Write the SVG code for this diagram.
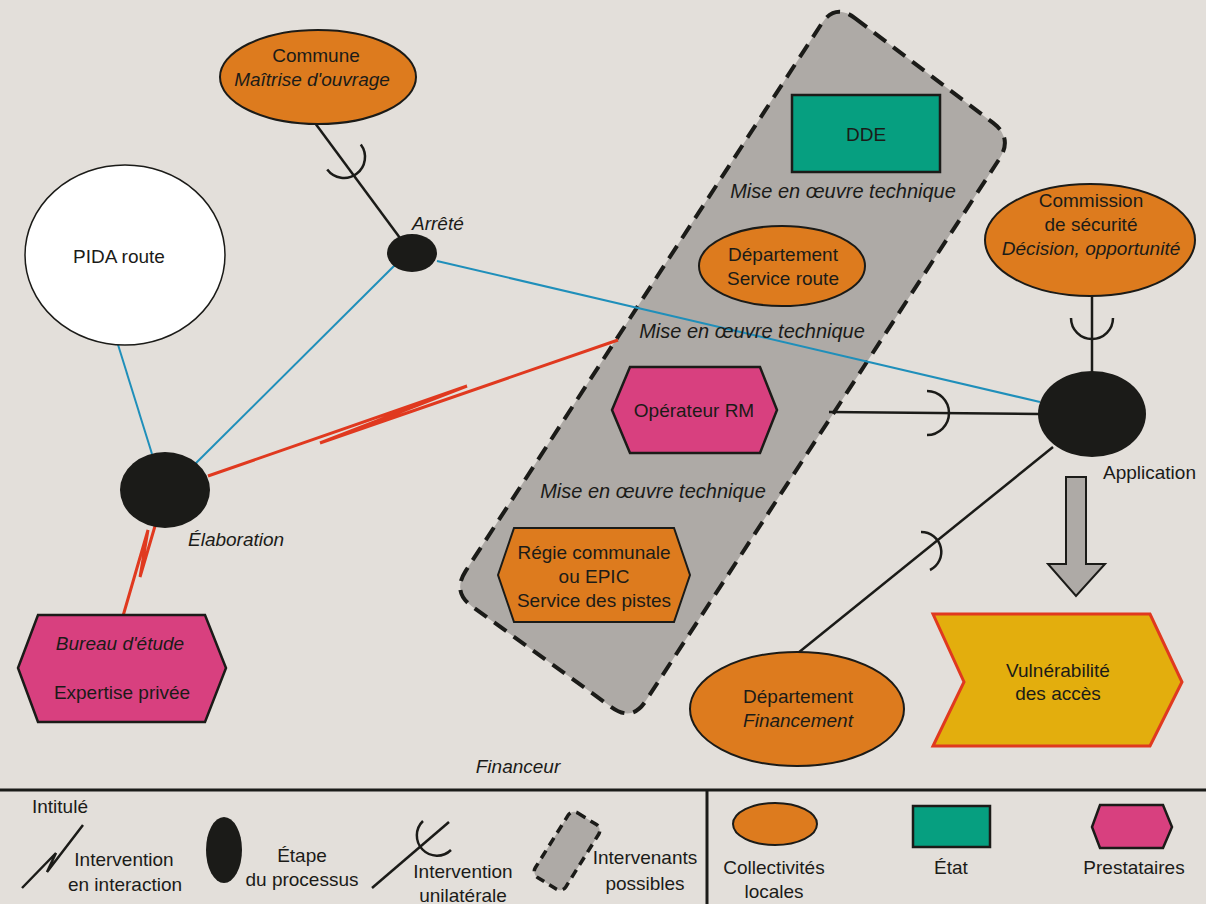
<svg xmlns="http://www.w3.org/2000/svg" width="1206" height="904" viewBox="0 0 1206 904">
<style>
.t{font-family:"Liberation Sans",Arial,sans-serif;font-size:19px;fill:#1b1b18;text-anchor:middle}
.i{font-style:italic}
.s{text-anchor:start}
.m{font-size:20px}
.org{fill:#dd7b1e;stroke:#1b1b18;stroke-width:2}
.pink{fill:#d8407f;stroke:#1b1b18;stroke-width:2.5}
.grn{fill:#069f80;stroke:#1b1b18;stroke-width:2.5}
.blk{fill:#1b1b18}
.ln{stroke:#1b1b18;stroke-width:2.5;fill:none}
.blue{stroke:#1f8fba;stroke-width:2;fill:none}
.red{stroke:#e0391f;stroke-width:3;fill:none;stroke-miterlimit:2}
.dash{fill:#aeaaa6;stroke:#1b1b18;stroke-width:4;stroke-dasharray:15 9}
</style>
<rect x="0" y="0" width="1206" height="904" fill="#e3dfda"/>

<g id="intervenants-possibles">
<path class="dash" d="M854.9,18.1 L993.1,122.9 Q1013,138 999.35,158.95 L645.65,701.05 Q632,722 611.7,707.35 L472.3,606.65 Q452,592 465.6,571.05 L821.4,23.95 Q835,3 854.9,18.1 Z"/>
</g>

<g id="connectors">
<line class="ln" x1="315" y1="123" x2="400" y2="238"/>
<path class="ln" d="M360.8,144.4 A21 21 0 0 1 327.2,169.6"/>
<line class="blue" x1="115" y1="335" x2="152" y2="454"/>
<line class="blue" x1="395" y1="265" x2="193" y2="466"/>
<line class="blue" x1="437" y1="261" x2="1040" y2="402"/>
<polyline class="red" points="208,476 467,386 320,443 618,340"/>
<polyline class="red" points="155,526 140,577 148,530 123,616"/>
<line class="ln" x1="1092" y1="296" x2="1092" y2="372"/>
<path class="ln" d="M1071,318 A21 21 0 0 0 1113,318"/>
<polyline class="ln" points="829,412 1040,414"/>
<path class="ln" d="M927,391 A22 22 0 0 1 927,435"/>
<line class="ln" x1="798" y1="653" x2="1053" y2="447"/>
<path class="ln" d="M921,532 A20 20 0 0 1 930,570"/>
<polygon points="1066,477 1086,477 1086,564 1105,564 1076,596 1048,564 1066,564" fill="#aeaaa6" stroke="#1b1b18" stroke-width="2"/>
</g>

<g id="commune">
<ellipse class="org" cx="318" cy="77" rx="98" ry="47"/>
<text class="t" x="316" y="62">Commune</text>
<text class="t i" x="312" y="86">Maîtrise d'ouvrage</text>
</g>

<g id="pida">
<ellipse cx="125" cy="255" rx="100" ry="90" fill="#ffffff" stroke="#1b1b18" stroke-width="1.5"/>
<text class="t" x="119" y="263">PIDA route</text>
</g>

<g id="arrete">
<ellipse class="blk" cx="412" cy="253" rx="25" ry="19"/>
<text class="t i s" x="412" y="230">Arrêté</text>
</g>

<g id="elaboration">
<ellipse class="blk" cx="165" cy="490" rx="45" ry="38"/>
<text class="t i s" x="188" y="546">Élaboration</text>
</g>

<g id="application">
<ellipse class="blk" cx="1092" cy="414" rx="54" ry="43"/>
<text class="t s" x="1103" y="479">Application</text>
</g>

<g id="dde">
<rect class="grn" x="792" y="95" width="148" height="77"/>
<text class="t" x="866" y="141">DDE</text>
</g>

<g id="departement-route">
<ellipse class="org" cx="782" cy="266" rx="83" ry="40"/>
<text class="t" x="783" y="261">Département</text>
<text class="t" x="783" y="285">Service route</text>
</g>

<g id="operateur">
<polygon class="pink" points="612,410 630,367 760,367 777,410 760,453 630,453"/>
<text class="t" x="694" y="417">Opérateur RM</text>
</g>

<g id="regie">
<polygon class="org" points="498,575 514,528 674,528 690,575 674,622 514,622"/>
<text class="t" x="594" y="559">Régie communale</text>
<text class="t" x="594" y="583">ou EPIC</text>
<text class="t" x="594" y="607">Service des pistes</text>
</g>

<g id="commission">
<ellipse class="org" cx="1090" cy="240" rx="105" ry="56"/>
<text class="t" x="1091" y="207">Commission</text>
<text class="t" x="1091" y="231">de sécurité</text>
<text class="t i" x="1091" y="255">Décision, opportunité</text>
</g>

<g id="bureau">
<polygon class="pink" points="18,668 38,615 205,615 226,668 205,722 38,722"/>
<text class="t i" x="120" y="650">Bureau d'étude</text>
<text class="t" x="122" y="699">Expertise privée</text>
</g>

<g id="departement-financement">
<ellipse class="org" cx="797" cy="709" rx="107" ry="57"/>
<text class="t" x="798" y="703">Département</text>
<text class="t i" x="798" y="727">Financement</text>
</g>

<g id="vulnerabilite">
<polygon points="933,614 1150,614 1182,682 1150,746 933,746 964,682" fill="#e3ae0d" stroke="#e0391f" stroke-width="3"/>
<text class="t" x="1058" y="677">Vulnérabilité</text>
<text class="t" x="1058" y="700">des accès</text>
</g>

<g id="labels">
<text class="t i m" x="843" y="198">Mise en œuvre technique</text>
<text class="t i m" x="752" y="338">Mise en œuvre technique</text>
<text class="t i m" x="653" y="498">Mise en œuvre technique</text>
<text class="t i" x="518" y="773">Financeur</text>
</g>

<g id="legend">
<line x1="0" y1="790" x2="1206" y2="790" stroke="#1b1b18" stroke-width="3"/>
<line x1="707" y1="790" x2="707" y2="904" stroke="#1b1b18" stroke-width="3"/>
<text class="t s" x="32" y="813">Intitulé</text>
<polyline points="22,888 56,853 47,872 83,825" fill="none" stroke="#1b1b18" stroke-width="2.5" stroke-miterlimit="2"/>
<text class="t" x="124" y="866">Intervention</text>
<text class="t" x="125" y="891">en interaction</text>
<ellipse class="blk" cx="224" cy="850" rx="18" ry="33"/>
<text class="t" x="302" y="862">Étape</text>
<text class="t" x="302" y="886">du processus</text>
<line class="ln" x1="372" y1="888" x2="449" y2="822"/>
<path class="ln" d="M423,821 A20 20 0 1 0 451,850"/>
<text class="t" x="463" y="878">Intervention</text>
<text class="t" x="463" y="902">unilatérale</text>
<rect x="-18" y="-38" width="36" height="76" rx="7" transform="translate(567,851) rotate(32)" fill="#aeaaa6" stroke="#1b1b18" stroke-width="3.5" stroke-dasharray="9 6"/>
<text class="t" x="645" y="864">Intervenants</text>
<text class="t" x="645" y="890">possibles</text>
<ellipse class="org" cx="775" cy="824" rx="42" ry="21"/>
<text class="t" x="774" y="874">Collectivités</text>
<text class="t" x="774" y="898">locales</text>
<rect class="grn" x="913" y="806" width="77" height="41"/>
<text class="t" x="951" y="874">État</text>
<polygon class="pink" points="1092,827 1100,805 1163,805 1172,827 1163,848 1100,848"/>
<text class="t" x="1134" y="874">Prestataires</text>
</g>
</svg>
